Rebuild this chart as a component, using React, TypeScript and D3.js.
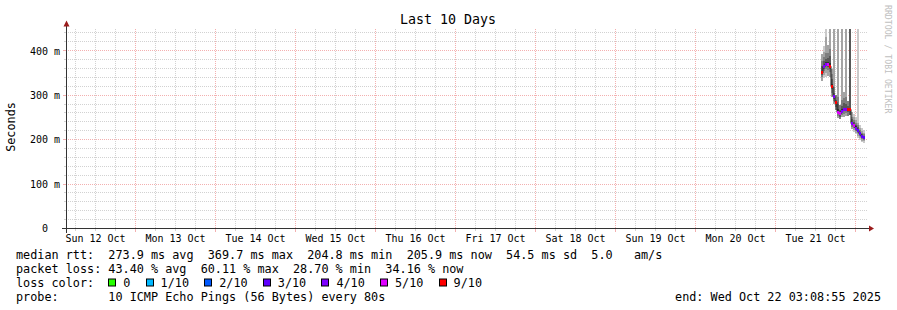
import React from "react";
import * as d3 from "d3";

const WIDTH = 897;
const HEIGHT = 310;

const titleText = "Last 10 Days";
const yAxisTitle = "Seconds";
const watermark = "RRDTOOL / TOBI OETIKER";
const startTime = "2025-10-12 03:08:55";
const endTime = "2025-10-22 03:08:55";
const yMaxMs = 450;
const yTickValues = [0, 100, 200, 300, 400];

const sampleTimes = [
  "2025-10-21 13:57", "2025-10-21 14:33", "2025-10-21 15:09", "2025-10-21 15:45",
  "2025-10-21 16:21", "2025-10-21 16:57", "2025-10-21 17:33", "2025-10-21 18:09",
  "2025-10-21 18:45", "2025-10-21 19:21", "2025-10-21 19:57", "2025-10-21 20:33",
  "2025-10-21 21:09", "2025-10-21 21:45", "2025-10-21 22:21", "2025-10-21 22:57",
  "2025-10-21 23:33", "2025-10-22 00:09", "2025-10-22 00:45", "2025-10-22 01:21",
  "2025-10-22 01:57", "2025-10-22 02:33",
];

const medianMs = [350, 364, 370, 369, 365, 320, 297, 284, 262, 258, 264, 267, 268, 268, 268, 236, 232, 226, 220, 213, 207, 205];

const lostPings = [6, 4, 4, 5, 6, 6, 4, 6, 5, 5, 4, 4, 4, 6, 6, 4, 5, 4, 3, 3, 3, 3];

const pingMs = [
  [332, 340, 346, 350, 354, 366, 378, 392],
  [338, 346, 354, 360, 364, 368, 376, 386, 398, 410],
  [340, 350, 360, 366, 370, 374, 382, 394, 430, 610],
  [344, 356, 364, 369, 374, 384, 396, 412],
  [340, 352, 360, 366, 372, 388, 404, 640],
  [296, 306, 314, 320, 326, 336, 348, 360],
  [280, 288, 292, 296, 300, 306, 318, 590],
  [266, 274, 280, 284, 290, 300],
  [248, 254, 258, 262, 268, 280, 296, 560],
  [246, 250, 256, 260, 266, 278],
  [250, 256, 260, 264, 268, 276, 290, 600],
  [252, 258, 264, 268, 272, 282, 294, 308],
  [254, 260, 264, 268, 272, 280, 296, 580],
  [254, 262, 266, 270, 276, 288],
  [256, 264, 270, 700],
  [224, 228, 232, 236, 240, 246, 252, 262],
  [218, 222, 226, 230, 232, 236, 240, 244, 250, 258],
  [212, 216, 220, 224, 226, 230, 234, 238, 244, 252],
  [204, 208, 214, 218, 220, 224, 228, 232, 238, 620],
  [200, 204, 208, 211, 213, 215, 218, 222, 226, 232],
  [194, 198, 202, 205, 207, 209, 212, 215, 219, 226],
  [193, 196, 200, 203, 205, 207, 209, 212, 216, 222],
];

const lossThresholds = [0, 1, 2, 3, 4, 5, 9];
const lossLabels = ["0", "1/10", "2/10", "3/10", "4/10", "5/10", "9/10"];
const lossColors = ["#26ff00", "#00b8ff", "#0059ff", "#5e00ff", "#7e00ff", "#dd00ff", "#ff0000"];

const legendMedian = "median rtt:  273.9 ms avg  369.7 ms max  204.8 ms min  205.9 ms now  54.5 ms sd  5.0   am/s";
const legendLoss = "packet loss: 43.40 % avg  60.11 % max  28.70 % min  34.16 % now";
const legendLossColor = "loss color:";
const legendProbe = "probe:       10 ICMP Echo Pings (56 Bytes) every 80s";
const legendEnd = "end: Wed Oct 22 03:08:55 2025";

const MONO = "'DejaVu Sans Mono', monospace";
const PINGS_PER_SAMPLE = 10;

export default function App() {
  const parseFull = d3.utcParse("%Y-%m-%d %H:%M:%S");
  const parseShort = d3.utcParse("%Y-%m-%d %H:%M");
  const t0 = parseFull(startTime) as Date;
  const t1 = parseFull(endTime) as Date;

  const left = 66;
  const right = 866;
  const bottom = 228.5;
  const top = 28.5;

  const x = d3.scaleUtc().domain([t0, t1]).range([left, right]);
  const y = d3.scaleLinear().domain([0, yMaxMs]).range([bottom, top]);
  const snap = (v: number) => Math.floor(v) + 0.5;

  const sixHours = (d3.utcHour.every(6) as d3.CountableTimeInterval).range(t0, t1);
  const minorT = sixHours.filter((d) => d.getUTCHours() !== 0);
  const majorT = d3.utcDay.range(t0, t1);
  const labelDays = d3.utcDay
    .range(d3.utcDay.floor(t0), t1)
    .filter((d) => +d3.utcHour.offset(d, 12) < +t1);
  const fmtDay = d3.utcFormat("%a %d %b");

  const minorY = d3.range(20, yMaxMs, 20).filter((v) => v % 100 !== 0);
  const majorY = yTickValues.filter((v) => v > 0);

  const minorColor = "#d2d2d2";
  const majorColor = "#f3b0b0";

  const samples = sampleTimes.map((s, i) => {
    const t = parseShort(s) as Date;
    const xc = x(t);
    const pings = pingMs[i];
    const pad = Math.floor((PINGS_PER_SAMPLE - pings.length) / 2);
    const slots: (number | null)[] = new Array(PINGS_PER_SAMPLE).fill(null);
    pings.forEach((p, j) => (slots[pad + j] = p));
    const loss = lostPings[i];
    const ci = lossThresholds.findIndex((th) => loss <= th);
    return { xc, med: medianMs[i], slots, color: lossColors[ci] };
  });

  const half = PINGS_PER_SAMPLE / 2;
  const smokeRects: JSX.Element[] = [];
  samples.forEach((s, i) => {
    for (let k = 0; k < half; k++) {
      const lo = s.slots[k];
      const hi = s.slots[PINGS_PER_SAMPLE - 1 - k];
      if (lo == null || hi == null) continue;
      const shade = Math.floor((190 / half) * (half - (k + 1))) + 50;
      const hex = shade.toString(16).padStart(2, "0");
      const yHi = y(Math.min(hi, yMaxMs));
      const yLo = y(Math.min(lo, yMaxMs));
      smokeRects.push(
        <rect key={`s${i}-${k}`} x={s.xc - 1} y={yHi} width={2} height={Math.max(0, yLo - yHi)} fill={`#${hex}${hex}${hex}`} />
      );
    }
  });

  const linePts: [number, number][] = [];
  samples.forEach((s) => {
    linePts.push([s.xc - 1, y(s.med)]);
    linePts.push([s.xc + 1, y(s.med)]);
  });
  const medianPath = d3.line()(linePts) || "";

  const charW = 7.1;
  let lx = 108.3;
  const lossItems = lossLabels.map((lab, i) => {
    const item = { bx: lx, tx: lx + 15, lab, color: lossColors[i] };
    lx += 15 + lab.length * charW + 15.2;
    return item;
  });

  const yLabel = (v: number) => (v === 0 ? "0  " : `${v} m`);

  return (
    <div style={{ position: "absolute", left: 0, top: 0 }}>
      <svg width={WIDTH} height={HEIGHT} style={{ display: "block", background: "#ffffff" }}>
        <rect x={0} y={0} width={WIDTH} height={HEIGHT} fill="#ffffff" />
        <g stroke={minorColor} strokeWidth={1} strokeDasharray="1 1" shapeRendering="crispEdges">
          {minorY.map((v) => (
            <line key={`hy${v}`} x1={left} x2={right + 2} y1={snap(y(v))} y2={snap(y(v))} />
          ))}
          {minorT.map((d) => (
            <line key={`vx${+d}`} x1={snap(x(d))} x2={snap(x(d))} y1={top} y2={bottom} />
          ))}
        </g>
        <g stroke={majorColor} strokeWidth={1} strokeDasharray="1 1" shapeRendering="crispEdges">
          {majorY.map((v) => (
            <line key={`Hy${v}`} x1={left} x2={right + 2} y1={snap(y(v))} y2={snap(y(v))} />
          ))}
          {majorT.map((d) => (
            <line key={`Vx${+d}`} x1={snap(x(d))} x2={snap(x(d))} y1={top} y2={bottom} />
          ))}
        </g>
        <g strokeWidth={1} shapeRendering="crispEdges">
          {minorT.map((d) => (
            <line key={`tx${+d}`} x1={snap(x(d))} x2={snap(x(d))} y1={bottom} y2={bottom + 2} stroke={minorColor} />
          ))}
          {majorT.map((d) => (
            <line key={`Tx${+d}`} x1={snap(x(d))} x2={snap(x(d))} y1={bottom} y2={bottom + 3} stroke={majorColor} />
          ))}
          {minorY.map((v) => (
            <line key={`ty${v}`} x1={left - 2} x2={left} y1={snap(y(v))} y2={snap(y(v))} stroke={minorColor} />
          ))}
          {majorY.map((v) => (
            <line key={`Ty${v}`} x1={left - 3} x2={left} y1={snap(y(v))} y2={snap(y(v))} stroke={majorColor} />
          ))}
        </g>
        <g shapeRendering="crispEdges">{smokeRects}</g>
        <path d={medianPath} fill="none" stroke="#202020" strokeWidth={1} />
        <g shapeRendering="crispEdges">
          {samples.map((s, i) => (
            <rect key={`m${i}`} x={s.xc - 1} y={y(s.med) - 1.5} width={2} height={3} fill={s.color} />
          ))}
        </g>
        <g stroke="#333333" strokeWidth={1} shapeRendering="crispEdges">
          <line x1={left - 4} x2={right + 3} y1={bottom} y2={bottom} />
          <line x1={left + 0.5} x2={left + 0.5} y1={bottom + 4} y2={top - 3} />
        </g>
        <path d={`M${right + 3},${bottom - 3} L${right + 8},${bottom} L${right + 3},${bottom + 3} Z`} fill="#9b1c1c" />
        <path d={`M${left - 2.5},${top - 2} L${left + 0.5},${top - 8} L${left + 3.5},${top - 2} Z`} fill="#9b1c1c" />
        <g fontFamily={MONO} fontSize={10} fill="#000" textAnchor="end" style={{ whiteSpace: "pre" }}>
          {yTickValues.map((v) => (
            <text key={`yl${v}`} x={60} y={y(v) + 3.8} xmlSpace="preserve">
              {yLabel(v)}
            </text>
          ))}
        </g>
        <g fontFamily={MONO} fontSize={10} fill="#000" textAnchor="middle">
          {labelDays.map((d) => (
            <text key={`xl${+d}`} x={x(d3.utcHour.offset(d, 12))} y={241.5}>
              {fmtDay(d)}
            </text>
          ))}
        </g>
        <text x={448} y={24} textAnchor="middle" fontFamily={MONO} fontSize={13.3} fill="#000">
          {titleText}
        </text>
        <text
          transform={`translate(15,127) rotate(-90)`}
          textAnchor="middle"
          fontFamily={MONO}
          fontSize={11.8}
          fill="#000"
        >
          {yAxisTitle}
        </text>
        <text transform={`translate(885,5) rotate(90)`} fontFamily={MONO} fontSize={8.2} fill="#c0c0c0">
          {watermark}
        </text>
        <g fontFamily={MONO} fontSize={11.8} fill="#000" style={{ whiteSpace: "pre" }}>
          <text x={16} y={258.5} xmlSpace="preserve">{legendMedian}</text>
          <text x={16} y={272.5} xmlSpace="preserve">{legendLoss}</text>
          <text x={16} y={286.5} xmlSpace="preserve">{legendLossColor}</text>
          {lossItems.map((it) => (
            <g key={it.lab}>
              <rect x={Math.round(it.bx) + 0.5} y={279} width={7} height={7} fill={it.color} stroke="#000" strokeWidth={1} />
              <text x={it.tx} y={286.5}>{it.lab}</text>
            </g>
          ))}
          <text x={16} y={300.5} xmlSpace="preserve">{legendProbe}</text>
          <text x={881} y={300.5} textAnchor="end" xmlSpace="preserve">{legendEnd}</text>
        </g>
      </svg>
    </div>
  );
}
